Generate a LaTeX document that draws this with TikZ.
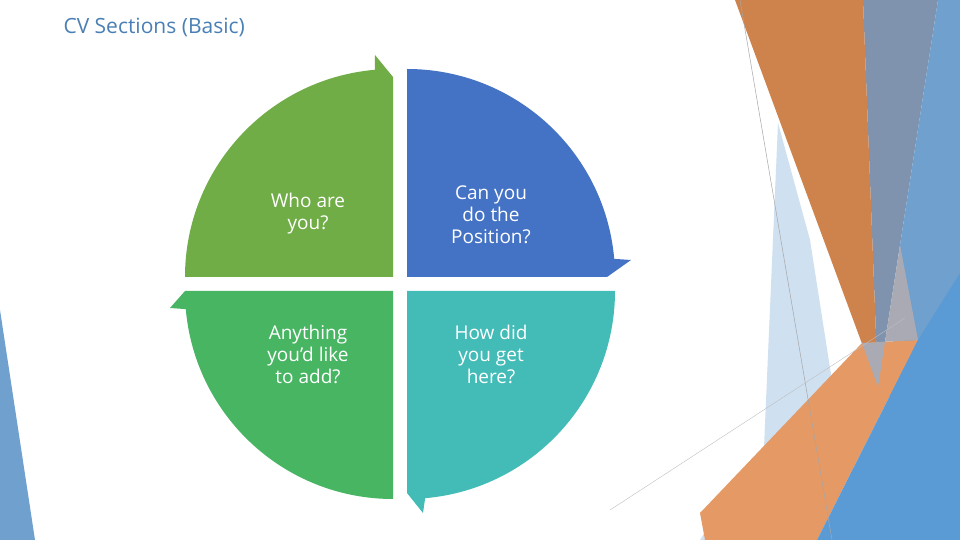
\documentclass[tikz,border=0pt]{standalone}
\usepackage{fontspec}
\setmainfont{Open Sans}
\definecolor{lblue}{RGB}{207,224,241}
\definecolor{gblue}{RGB}{127,147,174}
\definecolor{mblue}{RGB}{111,160,206}
\definecolor{dorange}{RGB}{206,130,76}
\definecolor{lorange}{RGB}{229,154,102}
\definecolor{sblue}{RGB}{91,155,213}
\definecolor{lgrey}{RGB}{170,170,180}
\definecolor{titleblue}{RGB}{74,127,181}
\definecolor{qgreen}{RGB}{112,173,71}
\definecolor{qblue}{RGB}{68,114,196}
\definecolor{qteal}{RGB}{67,188,184}
\definecolor{qgreenb}{RGB}{72,181,99}
\begin{document}
\begin{tikzpicture}[x=1pt,y=1pt,
  qtext/.style={text=white,font=\fontsize{19}{22}\selectfont,align=center},
  bg/.style={draw=none}]
\useasboundingbox (0,0) rectangle (960,540);
\fill[bg,fill=white] (0,0) rectangle (960,540);
\fill[bg,fill=lblue] (778,417) -- (810,300) -- (835,140) -- (733,53) -- (700,0) -- (760,0) -- cycle;
\fill[bg,fill=gblue] (863,540) -- (938,540) -- (900,295) -- (878,153) -- cycle;
\fill[bg,fill=mblue] (938,540) -- (960,540) -- (960,0) -- (880,0) -- (900,295) -- cycle;
\fill[bg,fill=dorange] (735,540) -- (863,540) -- (878,153) -- cycle;
\fill[bg,fill=lorange] (700,27) -- (862,197) -- (918,200) -- (817,0) -- (705,0) -- cycle;
\fill[bg,fill=sblue] (817,0) -- (960,0) -- (960,267) -- (918,200) -- cycle;
\fill[bg,fill=lgrey] (862,197) -- (918,200) -- (900,295) -- (878,153) -- cycle;
\fill[bg,fill=mblue] (0,230) -- (35,0) -- (0,0) -- cycle;
\coordinate (l1a) at (740,540); \coordinate (l1b) at (832,0);
\coordinate (l2a) at (610,30); \coordinate (l2b) at (905,222);
\draw[gray!70,line width=0.5pt] (l1a) -- (l1b);
\draw[gray!50,line width=0.4pt] (l2a) -- (l2b);
\node[anchor=west,text=titleblue,font=\fontsize{21}{24}\selectfont] (title) at (60,513) {CV Sections (Basic)};
\fill[qgreen] (185,263) arc[start angle=180,end angle=95,radius=208] -- (375,485) -- (393,463) -- (393,263) -- cycle;
\fill[qblue] (407,471) arc[start angle=90,end angle=5,radius=208] -- (631,280) -- (607,263) -- (407,263) -- cycle;
\fill[qteal] (615,249) arc[start angle=0,end angle=-85,radius=208] -- (423,27) -- (407,47) -- (407,249) -- cycle;
\fill[qgreenb] (393,41) arc[start angle=270,end angle=185,radius=208] -- (170,232) -- (185,249) -- (393,249) -- cycle;
\node[qtext] (q1) at (308,326) {Who are\\you?};
\node[qtext] (q2) at (491,325) {Can you\\do the\\Position?};
\node[qtext] (q3) at (491,186) {How did\\you get\\here?};
\node[qtext] (q4) at (308,186) {Anything\\you’d like\\to add?};
\end{tikzpicture}
\end{document}
